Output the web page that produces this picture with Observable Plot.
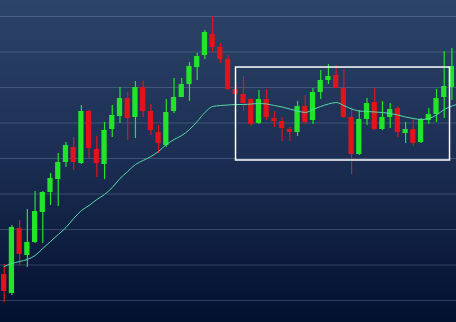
<!DOCTYPE html>
<html><head><meta charset="utf-8">
<script src="https://cdn.jsdelivr.net/npm/d3@7"></script>
<script src="https://cdn.jsdelivr.net/npm/@observablehq/plot@0.6"></script>
<style>
html,body{margin:0;padding:0;background:#0a1838;}
#chart{width:456px;height:322px;background:linear-gradient(to bottom,#2c4468 0%,#1b2d52 50%,#021030 100%);overflow:hidden;}
#chart svg{display:block;}
</style></head><body><div id="chart"></div>
<script>
// OHLC values per session (price units)
const opens  = [17.32,11.97,30.28,22.68,26.34,34.79,40.42,44.09,48.88,53.10,48.59,63.24,52.54,48.31,58.17,61.83,66.90,61.55,70.00,63.24,57.32,53.66,63.24,67.18,70.85,75.63,79.01,84.93,81.27,77.89,69.44,68.03,66.62,59.86,66.62,61.27,60.42,58.17,57.32,64.65,60.70,68.59,71.97,73.38,69.72,61.55,51.13,60.99,65.77,58.17,61.55,64.08,57.04,58.17,54.51,60.70,62.39,67.18,70.00,72.0];
const closes = [12.53,30.56,22.96,26.34,35.07,40.42,44.37,48.88,53.66,48.88,63.24,52.82,48.59,57.89,62.11,66.90,61.27,70.00,63.24,57.89,54.23,62.96,67.18,70.85,75.92,78.73,85.49,81.27,77.89,69.44,68.03,65.49,59.58,66.62,61.55,60.42,58.45,57.32,64.65,60.14,68.59,71.97,73.10,69.72,61.55,51.13,60.99,65.49,58.17,61.55,63.80,57.32,58.17,54.23,60.99,62.39,66.90,70.28,75.92,82.0];
const highs  = [20.14,31.13,32.54,35.63,40.70,40.70,45.77,51.41,54.51,55.92,64.93,63.52,56.20,60.14,64.93,70.00,68.59,71.69,71.69,65.21,59.30,66.62,72.54,72.54,77.04,79.58,86.06,90.00,82.39,79.01,70.85,73.10,66.90,69.16,69.44,63.24,61.55,58.73,66.06,67.75,69.72,74.79,76.48,76.20,75.07,64.37,63.52,66.90,69.72,66.06,65.49,64.65,60.14,61.27,61.27,64.08,69.44,80.14,80.99,84.0];
const lows   = [9.44,11.41,19.86,19.30,26.06,26.06,36.76,36.48,47.47,46.62,48.31,50.00,44.65,44.09,55.92,59.86,55.07,55.63,61.55,56.48,51.41,53.10,62.68,67.18,66.06,71.97,77.89,79.86,76.76,69.16,66.90,63.24,59.01,59.58,60.70,58.73,54.79,54.79,56.20,59.58,59.58,66.62,70.85,69.72,61.27,45.49,50.85,59.30,57.90,57.90,58.45,55.92,54.23,53.38,54.23,59.58,60.14,61.27,66.34,68.0];
// moving average per session
const ma = [19.58,20.42,20.99,21.55,22.68,24.65,26.62,28.59,30.56,33.10,35.35,36.76,38.45,39.86,41.83,44.37,46.34,48.31,49.44,50.56,51.97,53.94,55.35,56.48,58.17,60.42,62.96,64.65,64.93,65.07,65.21,65.21,65.35,65.49,65.35,64.93,64.51,63.94,63.38,62.96,63.80,64.65,65.35,65.77,64.93,63.94,63.38,63.24,63.10,62.96,62.68,62.25,61.69,61.27,60.99,61.27,62.25,63.80,64.79,65.49];
const gridTicks = [10,20,30,40,50,60,70,80,90];
// highlight box (session index range, price range)
const boxX = [30.03, 57.75];
const boxY = [49.44, 75.63];

const green = "#22e52a", red = "#e3131b";
const candles = opens.map((o,i)=>({i, open:o, close:closes[i], high:highs[i], low:lows[i], col: closes[i]>=o ? green : red}));
const maData = ma.map((v,i)=>({i, v}));

const chart = Plot.plot({
  width:456, height:322,
  marginTop:0, marginBottom:0, marginLeft:0, marginRight:0,
  style:{background:"transparent", overflow:"hidden"},
  x:{type:"linear", domain:[-0.479, 58.59], axis:null},
  y:{domain:[3.8, 94.51], axis:null},
  color:{type:"identity"},
  marks:[
    Plot.ruleY(gridTicks, {stroke:"#8ea2c8", strokeOpacity:0.3, strokeWidth:1}),
    Plot.ruleX(candles, {x:"i", y1:"low", y2:"high", stroke:"col", strokeWidth:1.2}),
    Plot.rect(candles, {x1:d=>d.i-0.34, x2:d=>d.i+0.34, y1:"open", y2:"close", fill:"col"}),
    Plot.line(maData, {x:"i", y:"v", stroke:"#55d8a8", strokeWidth:1, curve:"monotone-x"}),
    Plot.rect([{x1:boxX[0], x2:boxX[1], y1:boxY[0], y2:boxY[1]}], {x1:"x1", x2:"x2", y1:"y1", y2:"y2", fill:"none", stroke:"white", strokeWidth:1.5})
  ]
});
document.getElementById("chart").appendChild(chart);
</script>
</body></html>
